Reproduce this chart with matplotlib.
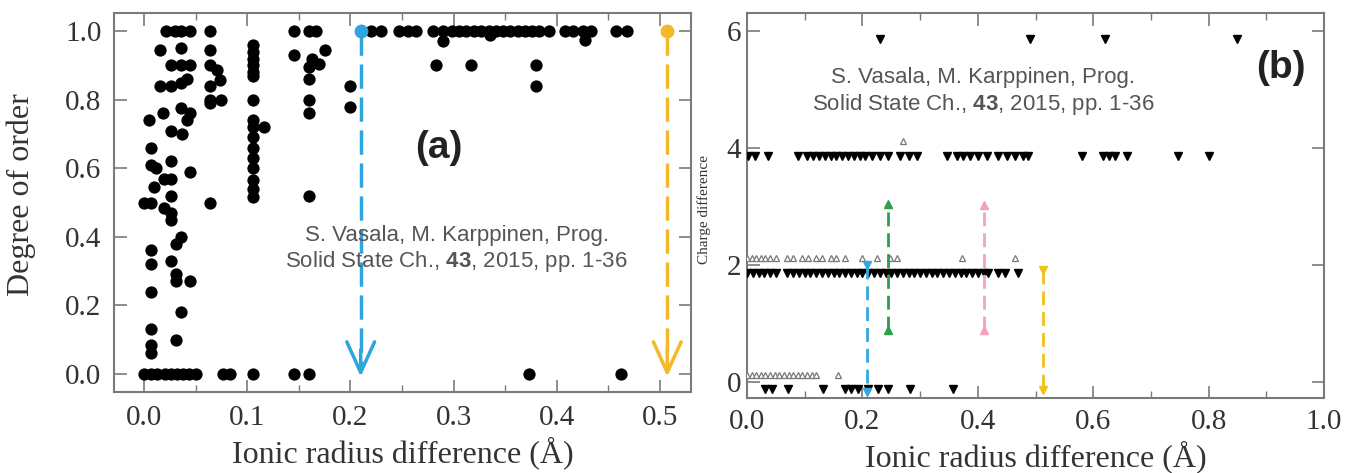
import matplotlib
matplotlib.use('Agg')
import matplotlib.pyplot as plt
from matplotlib.ticker import MultipleLocator

plt.rcParams['font.family'] = ['Liberation Serif', 'DejaVu Serif']
plt.rcParams['mathtext.fontset'] = 'custom'
plt.rcParams['mathtext.bf'] = 'Liberation Sans:bold'
plt.rcParams['mathtext.rm'] = 'Liberation Sans'

# ---------------- Panel (a): degree of order vs ionic radius difference ----------------
order_x = [
    0.021, 0.030, 0.036, 0.045, 0.064, 0.016, 0.036, 0.026, 0.036, 0.045,
    0.064, 0.064, 0.016, 0.026, 0.036, 0.042, 0.064, 0.064, 0.071, 0.074,
    0.075, 0.064, 0.005, 0.018, 0.036, 0.045, 0.042, 0.026, 0.037, 0.007,
    0.007, 0.012, 0.026, 0.045, 0.019, 0.026, 0.010, 0.026, 0.000, 0.007,
    0.064, 0.019, 0.026, 0.026, 0.036, 0.031, 0.007, 0.007, 0.026, 0.031,
    0.031, 0.045, 0.007, 0.036, 0.007, 0.031, 0.007, 0.007,
    0.106, 0.106, 0.106, 0.106, 0.106, 0.106, 0.106, 0.106, 0.106, 0.106,
    0.106, 0.106, 0.106, 0.106, 0.106, 0.106, 0.116,
    0.145, 0.145, 0.160, 0.167, 0.175, 0.163, 0.170, 0.160, 0.160, 0.160,
    0.160, 0.160, 0.200, 0.200,
    0.220, 0.230, 0.247, 0.256, 0.264, 0.280, 0.290, 0.298, 0.305, 0.312,
    0.320, 0.327, 0.334, 0.341, 0.348, 0.355, 0.362, 0.369, 0.376, 0.383,
    0.392, 0.408, 0.416, 0.425, 0.433, 0.457, 0.468,
    0.290, 0.335, 0.427, 0.283, 0.317, 0.380, 0.380,
    0.000, 0.007, 0.013, 0.020, 0.026, 0.032, 0.038, 0.044, 0.050, 0.077,
    0.083, 0.106, 0.145, 0.160, 0.373, 0.462,
]
order_y = [
    1.00, 1.00, 1.00, 1.00, 1.00, 0.945, 0.95, 0.90, 0.90, 0.90,
    0.945, 0.90, 0.84, 0.84, 0.85, 0.86, 0.84, 0.79, 0.886, 0.857,
    0.80, 0.80, 0.74, 0.76, 0.775, 0.76, 0.74, 0.71, 0.70, 0.66,
    0.61, 0.60, 0.62, 0.59, 0.57, 0.57, 0.545, 0.52, 0.50, 0.50,
    0.50, 0.485, 0.47, 0.45, 0.40, 0.38, 0.36, 0.32, 0.33, 0.29,
    0.27, 0.27, 0.24, 0.18, 0.13, 0.10, 0.085, 0.06,
    0.96, 0.94, 0.92, 0.90, 0.88, 0.80, 0.74, 0.72, 0.69, 0.66,
    0.63, 0.60, 0.565, 0.54, 0.515, 0.87, 0.72,
    1.00, 0.93, 1.00, 1.00, 0.945, 0.92, 0.905, 0.895, 0.86, 0.80,
    0.76, 0.52, 0.84, 0.78,
    1.00, 1.00, 1.00, 1.00, 1.00, 1.00, 1.00, 1.00, 1.00, 1.00,
    1.00, 1.00, 1.00, 1.00, 1.00, 1.00, 1.00, 1.00, 1.00, 1.00,
    1.00, 1.00, 1.00, 1.00, 1.00, 1.00, 1.00,
    0.97, 0.99, 0.975, 0.90, 0.90, 0.90, 0.84,
    0.0, 0.0, 0.0, 0.0, 0.0, 0.0, 0.0, 0.0, 0.0, 0.0,
    0.0, 0.0, 0.0, 0.0, 0.0, 0.0,
]

# threshold arrows in (a)
thr_a_x = [0.21, 0.507]
thr_a_top = [1.0, 1.0]
thr_a_colors = ['#2ea6dd', '#f3b928']

# ---------------- Panel (b): charge difference vs ionic radius difference ----------------
filled_levels = [5.87, 3.87, 1.87, -0.12]
filled_x = [
    [0.23, 0.49, 0.62, 0.85],
    [0.002, 0.014, 0.036, 0.088, 0.104, 0.114, 0.125, 0.135, 0.145, 0.155,
     0.165, 0.175, 0.185, 0.195, 0.205, 0.217, 0.230, 0.244, 0.265, 0.280,
     0.295, 0.347, 0.364, 0.374, 0.386, 0.400, 0.416, 0.435, 0.450, 0.465,
     0.478, 0.487, 0.580, 0.617, 0.628, 0.638, 0.659, 0.747, 0.800],
    [0.000, 0.010, 0.020, 0.030, 0.040, 0.050, 0.070, 0.080, 0.090, 0.100,
     0.110, 0.120, 0.130, 0.140, 0.150, 0.160, 0.170, 0.180, 0.190, 0.200,
     0.210, 0.220, 0.230, 0.240, 0.250, 0.260, 0.270, 0.280, 0.290, 0.300,
     0.310, 0.320, 0.330, 0.340, 0.350, 0.360, 0.370, 0.380, 0.390, 0.400,
     0.410, 0.418, 0.435, 0.447, 0.470],
    [0.031, 0.043, 0.071, 0.132, 0.170, 0.180, 0.192, 0.210, 0.227, 0.244,
     0.283, 0.357],
]
open_levels = [4.13, 2.13, 0.13]
open_x = [
    [0.27],
    [0.000, 0.008, 0.016, 0.024, 0.032, 0.040, 0.050, 0.070, 0.080, 0.095,
     0.105, 0.120, 0.130, 0.145, 0.155, 0.170, 0.200, 0.225, 0.248, 0.260,
     0.373, 0.465],
    [0.000, 0.008, 0.016, 0.024, 0.032, 0.040, 0.048, 0.056, 0.064, 0.072,
     0.080, 0.088, 0.096, 0.104, 0.112, 0.120, 0.158],
]

# coloured bars in (b): x, y_start, y_end, colour, marker
bar_x = [0.208, 0.244, 0.410, 0.513]
bar_y0 = [2.00, 0.90, 0.90, 1.91]
bar_y1 = [-0.17, 3.05, 3.03, -0.14]
bar_colors = ['#33a8e0', '#2e9e4f', '#f4a3b8', '#f2c21c']
bar_markers = ['v', '^', '^', 'v']

citation1 = 'S. Vasala, M. Karppinen, Prog.'
citation2 = r'Solid State Ch., $\bf{43}$, 2015, pp. 1-36'

fig = plt.figure(figsize=(13.57, 4.73), dpi=100)
axA = fig.add_axes([0.0840, 0.1712, 0.4252, 0.8013])
axB = fig.add_axes([0.5505, 0.1586, 0.4252, 0.8140])

spine_c = '#7a7a7a'
label_c = '#333333'


def style(ax):
    for s in ax.spines.values():
        s.set_color(spine_c)
        s.set_linewidth(1.5)
    ax.tick_params(which='both', direction='in', top=True, right=True,
                   colors=spine_c, labelcolor=label_c)
    ax.tick_params(which='major', length=9, width=1.2, labelsize=21)
    ax.tick_params(which='minor', length=5, width=1.0)


# ---- panel (a)
axA.scatter(order_x, order_y, s=78, color='black', zorder=3, linewidths=0)
for xv, yt, c in zip(thr_a_x, thr_a_top, thr_a_colors):
    axA.plot([xv, xv], [yt, 0.02], color=c, lw=2.5, ls=(0, (7, 2.5)), zorder=2)
    axA.plot([xv], [yt], 'o', color=c, ms=9, zorder=4)
    axA.annotate('', xy=(xv, -0.008), xytext=(xv, 0.07),
                 arrowprops=dict(arrowstyle='->,head_length=1.1,head_width=0.5',
                                 color=c, lw=2.5, mutation_scale=20,
                                 shrinkA=0, shrinkB=0), zorder=4)
axA.set_xlim(-0.029, 0.53)
axA.set_ylim(-0.053, 1.053)
axA.xaxis.set_major_locator(MultipleLocator(0.1))
axA.xaxis.set_minor_locator(MultipleLocator(0.05))
axA.yaxis.set_major_locator(MultipleLocator(0.2))
style(axA)
axA.tick_params(axis='x', which='major', pad=9)
axA.tick_params(axis='y', which='major', pad=9)
axA.set_xlabel('Ionic radius difference (Å)', fontsize=23, color=label_c, labelpad=4)
axA.set_ylabel('Degree of order', fontsize=23, color=label_c)
axA.yaxis.set_label_coords(-0.135, 0.52)
axA.text(0.286, 0.66, '(a)', fontsize=28, fontweight='bold', family='Liberation Sans',
         color='#222222', ha='center', va='center')
axA.text(0.303, 0.405, citation1, fontsize=16, family='Liberation Sans',
         color='#555555', ha='center', va='center')
axA.text(0.303, 0.327, citation2, fontsize=16, family='Liberation Sans',
         color='#555555', ha='center', va='center')

# ---- panel (b)
for lvl, xs in zip(filled_levels, filled_x):
    axB.plot(xs, [lvl] * len(xs), 'v', color='black', ms=6, ls='none', zorder=3)
for lvl, xs in zip(open_levels, open_x):
    axB.plot(xs, [lvl] * len(xs), '^', mfc='white', mec='#777777', mew=0.9,
             ms=5, ls='none', zorder=3)
for xv, y0, y1, c, m in zip(bar_x, bar_y0, bar_y1, bar_colors, bar_markers):
    axB.plot([xv, xv], [y0, y1], color=c, lw=2.0, ls=(0, (5, 2.5)), zorder=4)
    axB.plot([xv, xv], [y0, y1], m, color=c, ms=6, ls='none', zorder=4)
axB.set_xlim(0, 1.0)
axB.set_ylim(-0.27, 6.31)
axB.xaxis.set_major_locator(MultipleLocator(0.2))
axB.xaxis.set_minor_locator(MultipleLocator(0.1))
axB.yaxis.set_major_locator(MultipleLocator(2))
style(axB)
axB.tick_params(axis='x', which='major', pad=8)
axB.tick_params(axis='y', which='major', pad=4)
axB.set_xlabel('Ionic radius difference (Å)', fontsize=23, color=label_c, labelpad=4)
axB.set_ylabel('Charge difference', fontsize=11, color=label_c)
axB.yaxis.set_label_coords(-0.062, 0.49)
axB.text(0.925, 5.37, '(b)', fontsize=28, fontweight='bold', family='Liberation Sans',
         color='#222222', ha='center', va='center')
axB.text(0.409, 5.20, citation1, fontsize=16, family='Liberation Sans',
         color='#555555', ha='center', va='center')
axB.text(0.409, 4.75, citation2, fontsize=16, family='Liberation Sans',
         color='#555555', ha='center', va='center')

fig.savefig('out.png', dpi=100)
